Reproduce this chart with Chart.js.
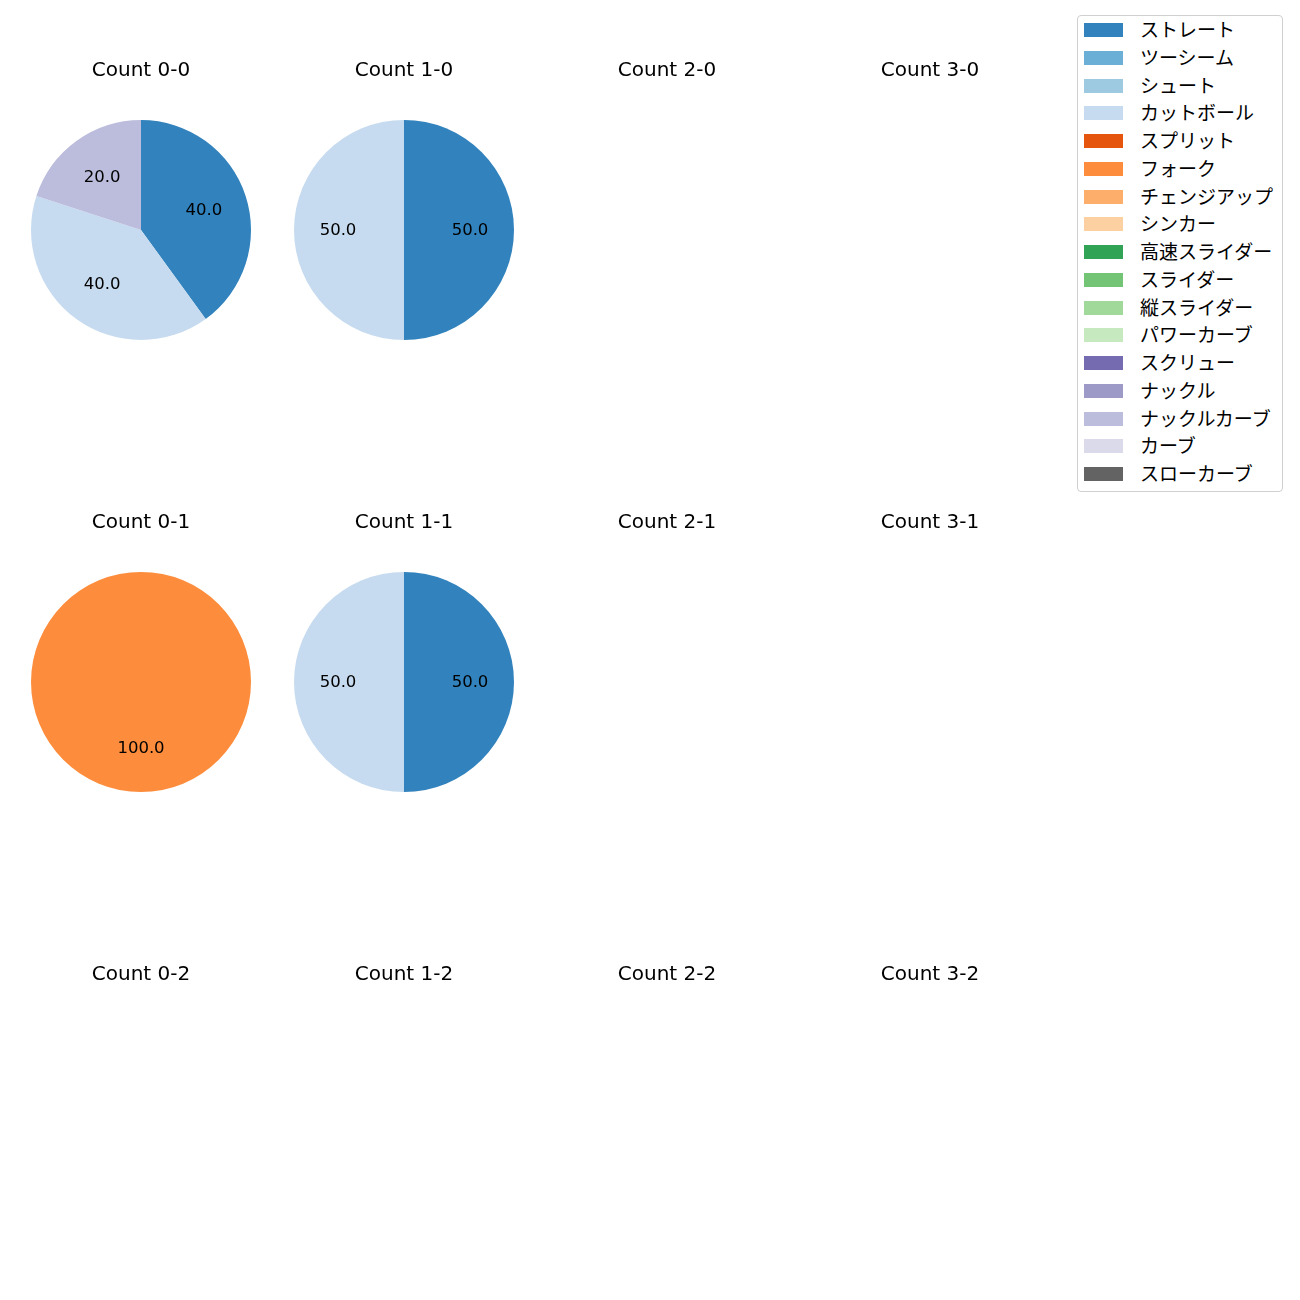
<!DOCTYPE html>
<html>
<head>
<meta charset="utf-8">
<script src="https://cdn.jsdelivr.net/npm/chart.js@4"></script>
<style>
  body { margin: 0; background: #fff; font-family: "Noto Sans CJK JP", "DejaVu Sans", sans-serif; }
  #wrap { position: relative; width: 1300px; height: 1300px; }
  .cell { position: absolute; }
  #legend {
    position: absolute; left: 1077px; top: 15px; width: 204px; height: 475px;
    border: 1px solid #d0d0d0; border-radius: 4px; background: #fff;
  }
  .lg-row { position: absolute; left: 0; height: 20px; }
  .lg-sw { position: absolute; left: 6px; width: 39px; height: 14px; }
  .lg-tx { position: absolute; left: 62px; top: -3px; font-size: 19px; color: #000; white-space: nowrap; line-height: 24px; }
</style>
</head>
<body>
<div id="wrap">
  <div id="legend"></div>
</div>
<script>
// pitch types and colours (tab20c order)
const pitchTypes = ['ストレート','ツーシーム','シュート','カットボール','スプリット','フォーク','チェンジアップ','シンカー',
  '高速スライダー','スライダー','縦スライダー','パワーカーブ','スクリュー','ナックル','ナックルカーブ','カーブ','スローカーブ'];
const pitchColors = ['#3182bd','#6baed6','#9ecae1','#c6dbef','#e6550d','#fd8d3c','#fdae6b','#fdd0a2',
  '#31a354','#74c476','#a1d99b','#c7e9c0','#756bb1','#9e9ac8','#bcbddc','#dadaeb','#636363'];

// percentages per count, same order as pitchTypes
const count00 = [40,0,0,40,0,0,0,0,0,0,0,0,0,0,20,0,0];
const count10 = [50,0,0,50,0,0,0,0,0,0,0,0,0,0,0,0,0];
const count20 = [];
const count30 = [];
const count01 = [0,0,0,0,0,100,0,0,0,0,0,0,0,0,0,0,0];
const count11 = [50,0,0,50,0,0,0,0,0,0,0,0,0,0,0,0,0];
const count21 = [];
const count31 = [];
const count02 = [];
const count12 = [];
const count22 = [];
const count32 = [];

const cells = [
  ['Count 0-0', count00], ['Count 1-0', count10], ['Count 2-0', count20], ['Count 3-0', count30],
  ['Count 0-1', count01], ['Count 1-1', count11], ['Count 2-1', count21], ['Count 3-1', count31],
  ['Count 0-2', count02], ['Count 1-2', count12], ['Count 2-2', count22], ['Count 3-2', count32]
];

const FONT = '"DejaVu Sans", "Noto Sans CJK JP", sans-serif';

// draws value labels at 0.6 of the radius, like matplotlib autopct
const pctLabels = {
  id: 'pctLabels',
  afterDatasetsDraw(chart) {
    const ctx = chart.ctx;
    const meta = chart.getDatasetMeta(0);
    const data = chart.data.datasets[0].data;
    ctx.save();
    ctx.font = '16.5px ' + FONT;
    ctx.fillStyle = '#000';
    ctx.textAlign = 'center';
    ctx.textBaseline = 'middle';
    meta.data.forEach((arc, i) => {
      if (!data[i]) return;
      const p = arc.getProps(['x','y','startAngle','endAngle','outerRadius'], true);
      const mid = (p.startAngle + p.endAngle) / 2;
      const r = p.outerRadius * 0.6;
      ctx.fillText(data[i].toFixed(1), p.x + Math.cos(mid) * r, p.y + Math.sin(mid) * r + 1);
    });
    ctx.restore();
  }
};

const wrap = document.getElementById('wrap');
cells.forEach(([title, values], k) => {
  const col = k % 4, row = Math.floor(k / 4);
  const cx = 141 + col * 263, cy = 230 + row * 452;
  const box = document.createElement('div');
  box.className = 'cell';
  box.style.left = (cx - 130) + 'px';
  box.style.top = (cy - 180) + 'px';
  box.style.width = '260px';
  box.style.height = '300px';
  const cv = document.createElement('canvas');
  box.appendChild(cv);
  wrap.appendChild(box);
  new Chart(cv, {
    type: 'pie',
    data: {
      labels: pitchTypes,
      datasets: [{ data: values, backgroundColor: pitchColors, borderWidth: 0 }]
    },
    options: {
      responsive: true,
      maintainAspectRatio: false,
      animation: false,
      layout: { padding: { left: 20, right: 20, top: 0, bottom: 10 } },
      plugins: {
        legend: { display: false },
        tooltip: { enabled: false },
        title: {
          display: true, text: title, color: '#000',
          font: { family: FONT, size: 20, weight: 'normal', lineHeight: 1.2 },
          padding: { top: 8.5, bottom: 37.5 }
        }
      }
    },
    plugins: [pctLabels]
  });
});

// legend
const legend = document.getElementById('legend');
pitchTypes.forEach((name, i) => {
  const rowEl = document.createElement('div');
  rowEl.className = 'lg-row';
  rowEl.style.top = (4 + i * 27.75) + 'px';
  rowEl.innerHTML = `<div class="lg-sw" style="background:${pitchColors[i]};top:3px"></div><div class="lg-tx">${name}</div>`;
  legend.appendChild(rowEl);
});
</script>
</body>
</html>
